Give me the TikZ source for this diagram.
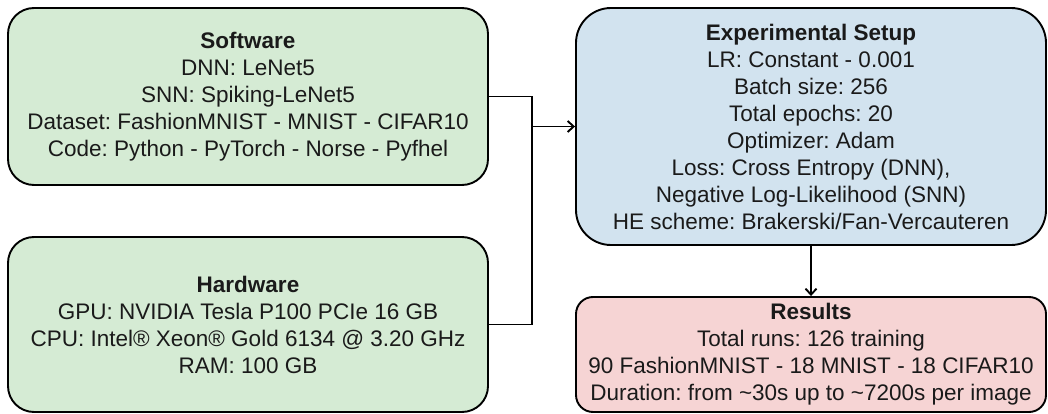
\documentclass[tikz,border=0pt]{standalone}
\usepackage{fontspec}
\setmainfont{Liberation Sans}
\usetikzlibrary{arrows.meta}

\definecolor{swgreen}{HTML}{D5EBD4}
\definecolor{setupblue}{HTML}{D2E3EF}
\definecolor{resred}{HTML}{F6D4D4}
\definecolor{edge}{HTML}{000000}
\definecolor{ink}{HTML}{1A1A1A}

\tikzset{
  panel/.style={draw=edge, line width=1.9pt, align=center, inner sep=0pt,
    font=\fontsize{22.5}{27}\selectfont\frenchspacing, text=ink},
  link/.style={draw=edge, line width=1.9pt},
  linkarrow/.style={link, -{Straight Barb[length=6pt,width=11pt,line width=1.9pt]}}
}

\begin{document}
\begin{tikzpicture}[x=1pt, y=-1pt]
\useasboundingbox (0,0) rectangle (1048,414);

% input panels on the left
\node[panel, fill=swgreen, rounded corners=26pt,
      minimum width=480pt, minimum height=177pt] (software) at (248,96.5)
  {\textbf{Software}\\
   DNN: LeNet5\\
   SNN: Spiking-LeNet5\\
   Dataset: FashionMNIST - MNIST - CIFAR10\\
   Code: Python - PyTorch - Norse - Pyfhel};

\node[panel, fill=swgreen, rounded corners=26pt,
      minimum width=480pt, minimum height=175pt] (hardware) at (248,324.5)
  {\textbf{Hardware}\\
   GPU: NVIDIA Tesla P100 PCIe 16 GB\\
   CPU: Intel® Xeon® Gold 6134 @ 3.20 GHz\\
   RAM: 100 GB};

% setup and results on the right
\node[panel, fill=setupblue, rounded corners=35pt,
      minimum width=470pt, minimum height=237pt] (setup) at (811,126.5)
  {\textbf{Experimental Setup}\\
   LR: Constant - 0.001\\
   Batch size: 256\\
   Total epochs: 20\\
   Optimizer: Adam\\
   Loss: Cross Entropy (DNN),\\
   Negative Log-Likelihood (SNN)\\
   HE scheme: Brakerski/Fan-Vercauteren};

\node[panel, fill=resred, rounded corners=17pt,
      minimum width=470pt, minimum height=115pt] (results) at (811,354.5)
  {\textbf{Results}\\
   Total runs: 126 training\\
   90 FashionMNIST - 18 MNIST - 18 CIFAR10\\
   Duration: from \textasciitilde30s up to \textasciitilde7200s per image};

% merging connector
\coordinate (merge) at (532,126.5);
\draw[link] (software.east) -| (merge) |- (hardware.east);
\draw[linkarrow] (merge) -- (setup.west);
\draw[linkarrow] (setup.south) -- (results.north);
\end{tikzpicture}
\end{document}
